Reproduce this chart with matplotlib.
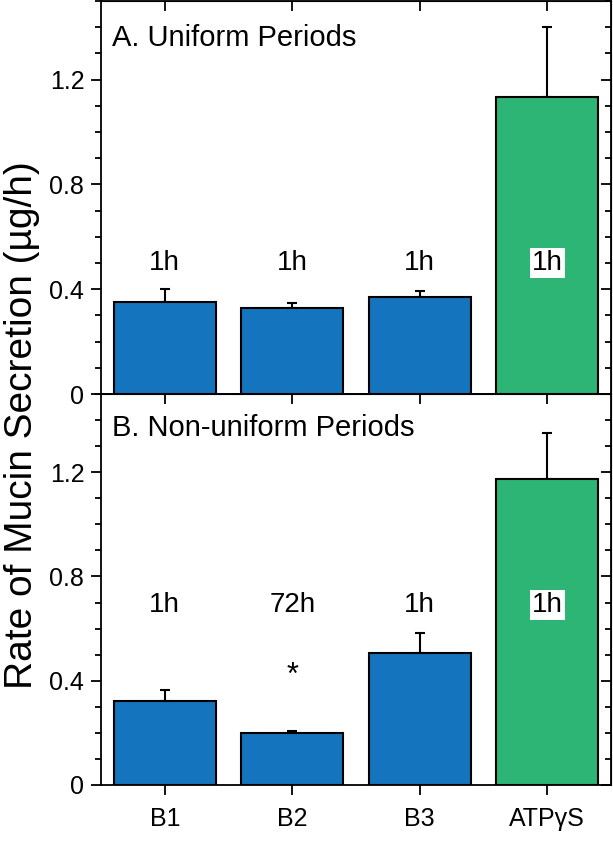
import matplotlib.pyplot as plt
import numpy as np
from matplotlib.ticker import MultipleLocator, FuncFormatter

plt.rcParams['font.family'] = ['Liberation Sans', 'DejaVu Sans']

# Data
categories = ['B1', 'B2', 'B3', 'ATP\u03b3S']
uniform_vals = [0.350, 0.327, 0.371, 1.134]
uniform_err = [0.051, 0.021, 0.023, 0.267]
nonuniform_vals = [0.322, 0.199, 0.507, 1.175]
nonuniform_err = [0.042, 0.007, 0.078, 0.176]
uniform_labels = ['1h', '1h', '1h', '1h']
nonuniform_labels = ['1h', '72h', '1h', '1h']
bar_colors = ['#1474bd', '#1474bd', '#1474bd', '#2cb574']

W, H = 613, 841
fig = plt.figure(figsize=(W / 100, H / 100), dpi=100)
left = 101 / W
width = (611 - 101) / W
ax_a = fig.add_axes([left, 1 - 394 / H, width, 393 / H])
ax_b = fig.add_axes([left, 1 - 785 / H, width, 391 / H])

x = np.arange(len(categories))


def fmt(v, pos):
    return '0' if abs(v) < 1e-9 else '%.1f' % v


def style(ax, show_xlabels):
    ax.set_xlim(-0.5, 3.5)
    ax.set_ylim(0, 1.5)
    ax.yaxis.set_major_locator(MultipleLocator(0.4))
    ax.yaxis.set_minor_locator(MultipleLocator(0.1))
    ax.yaxis.set_major_formatter(FuncFormatter(fmt))
    ax.set_xticks(x)
    if show_xlabels:
        ax.set_xticklabels(categories)
    else:
        ax.set_xticklabels([])
    ax.tick_params(axis='y', which='both', left=True, right=False, labelsize=18, width=1.3)
    ax.tick_params(axis='y', which='major', length=7, pad=5)
    ax.tick_params(axis='y', which='minor', length=4)
    ax.tick_params(axis='x', which='major', bottom=True, top=False, direction='out',
                   length=7, width=1.3, labelsize=18, pad=9)
    # right ticks point inward
    right = ax.secondary_yaxis('right')
    right.yaxis.set_major_locator(MultipleLocator(0.4))
    right.yaxis.set_minor_locator(MultipleLocator(0.1))
    right.tick_params(which='both', direction='in', labelright=False, width=1.3)
    right.tick_params(which='major', length=7)
    right.tick_params(which='minor', length=4)
    # top ticks inward
    top = ax.secondary_xaxis('top')
    top.set_xticks(x)
    top.set_xticklabels([])
    top.tick_params(direction='in', length=7, width=1.3)
    for s in ax.spines.values():
        s.set_linewidth(1.3)


def draw(ax, vals, errs, labels, title, title_y, label_y, star=None):
    ax.bar(x, vals, width=0.8, color=bar_colors, edgecolor='black', linewidth=1.5, zorder=2)
    ax.errorbar(x, vals, yerr=[np.zeros(len(vals)), errs], fmt='none', ecolor='black',
                elinewidth=1.5, capsize=3.6, capthick=1.5, zorder=1)
    for i, lab in enumerate(labels):
        if i == 3:
            ax.text(x[i], label_y, lab, ha='center', va='center', fontsize=20,
                    bbox=dict(facecolor='white', edgecolor='none', pad=1.5), zorder=3)
        else:
            ax.text(x[i], label_y, lab, ha='center', va='center', fontsize=20, zorder=3)
    ax.text(-0.41, title_y, title, ha='left', va='center', fontsize=21)
    if star is not None:
        ax.text(star[0], star[1], '*', ha='center', va='center', fontsize=22)


draw(ax_a, uniform_vals, uniform_err, uniform_labels, 'A. Uniform Periods', 1.36, 0.5)
draw(ax_b, nonuniform_vals, nonuniform_err, nonuniform_labels, 'B. Non-uniform Periods',
     1.37, 0.69, star=(1, 0.42))
style(ax_a, False)
style(ax_b, True)

fig.text(22 / W, 1 - 425 / H, 'Rate of Mucin Secretion (\u00b5g/h)', rotation=90,
         ha='center', va='center', fontsize=28)

fig.savefig('out.png', dpi=100)
